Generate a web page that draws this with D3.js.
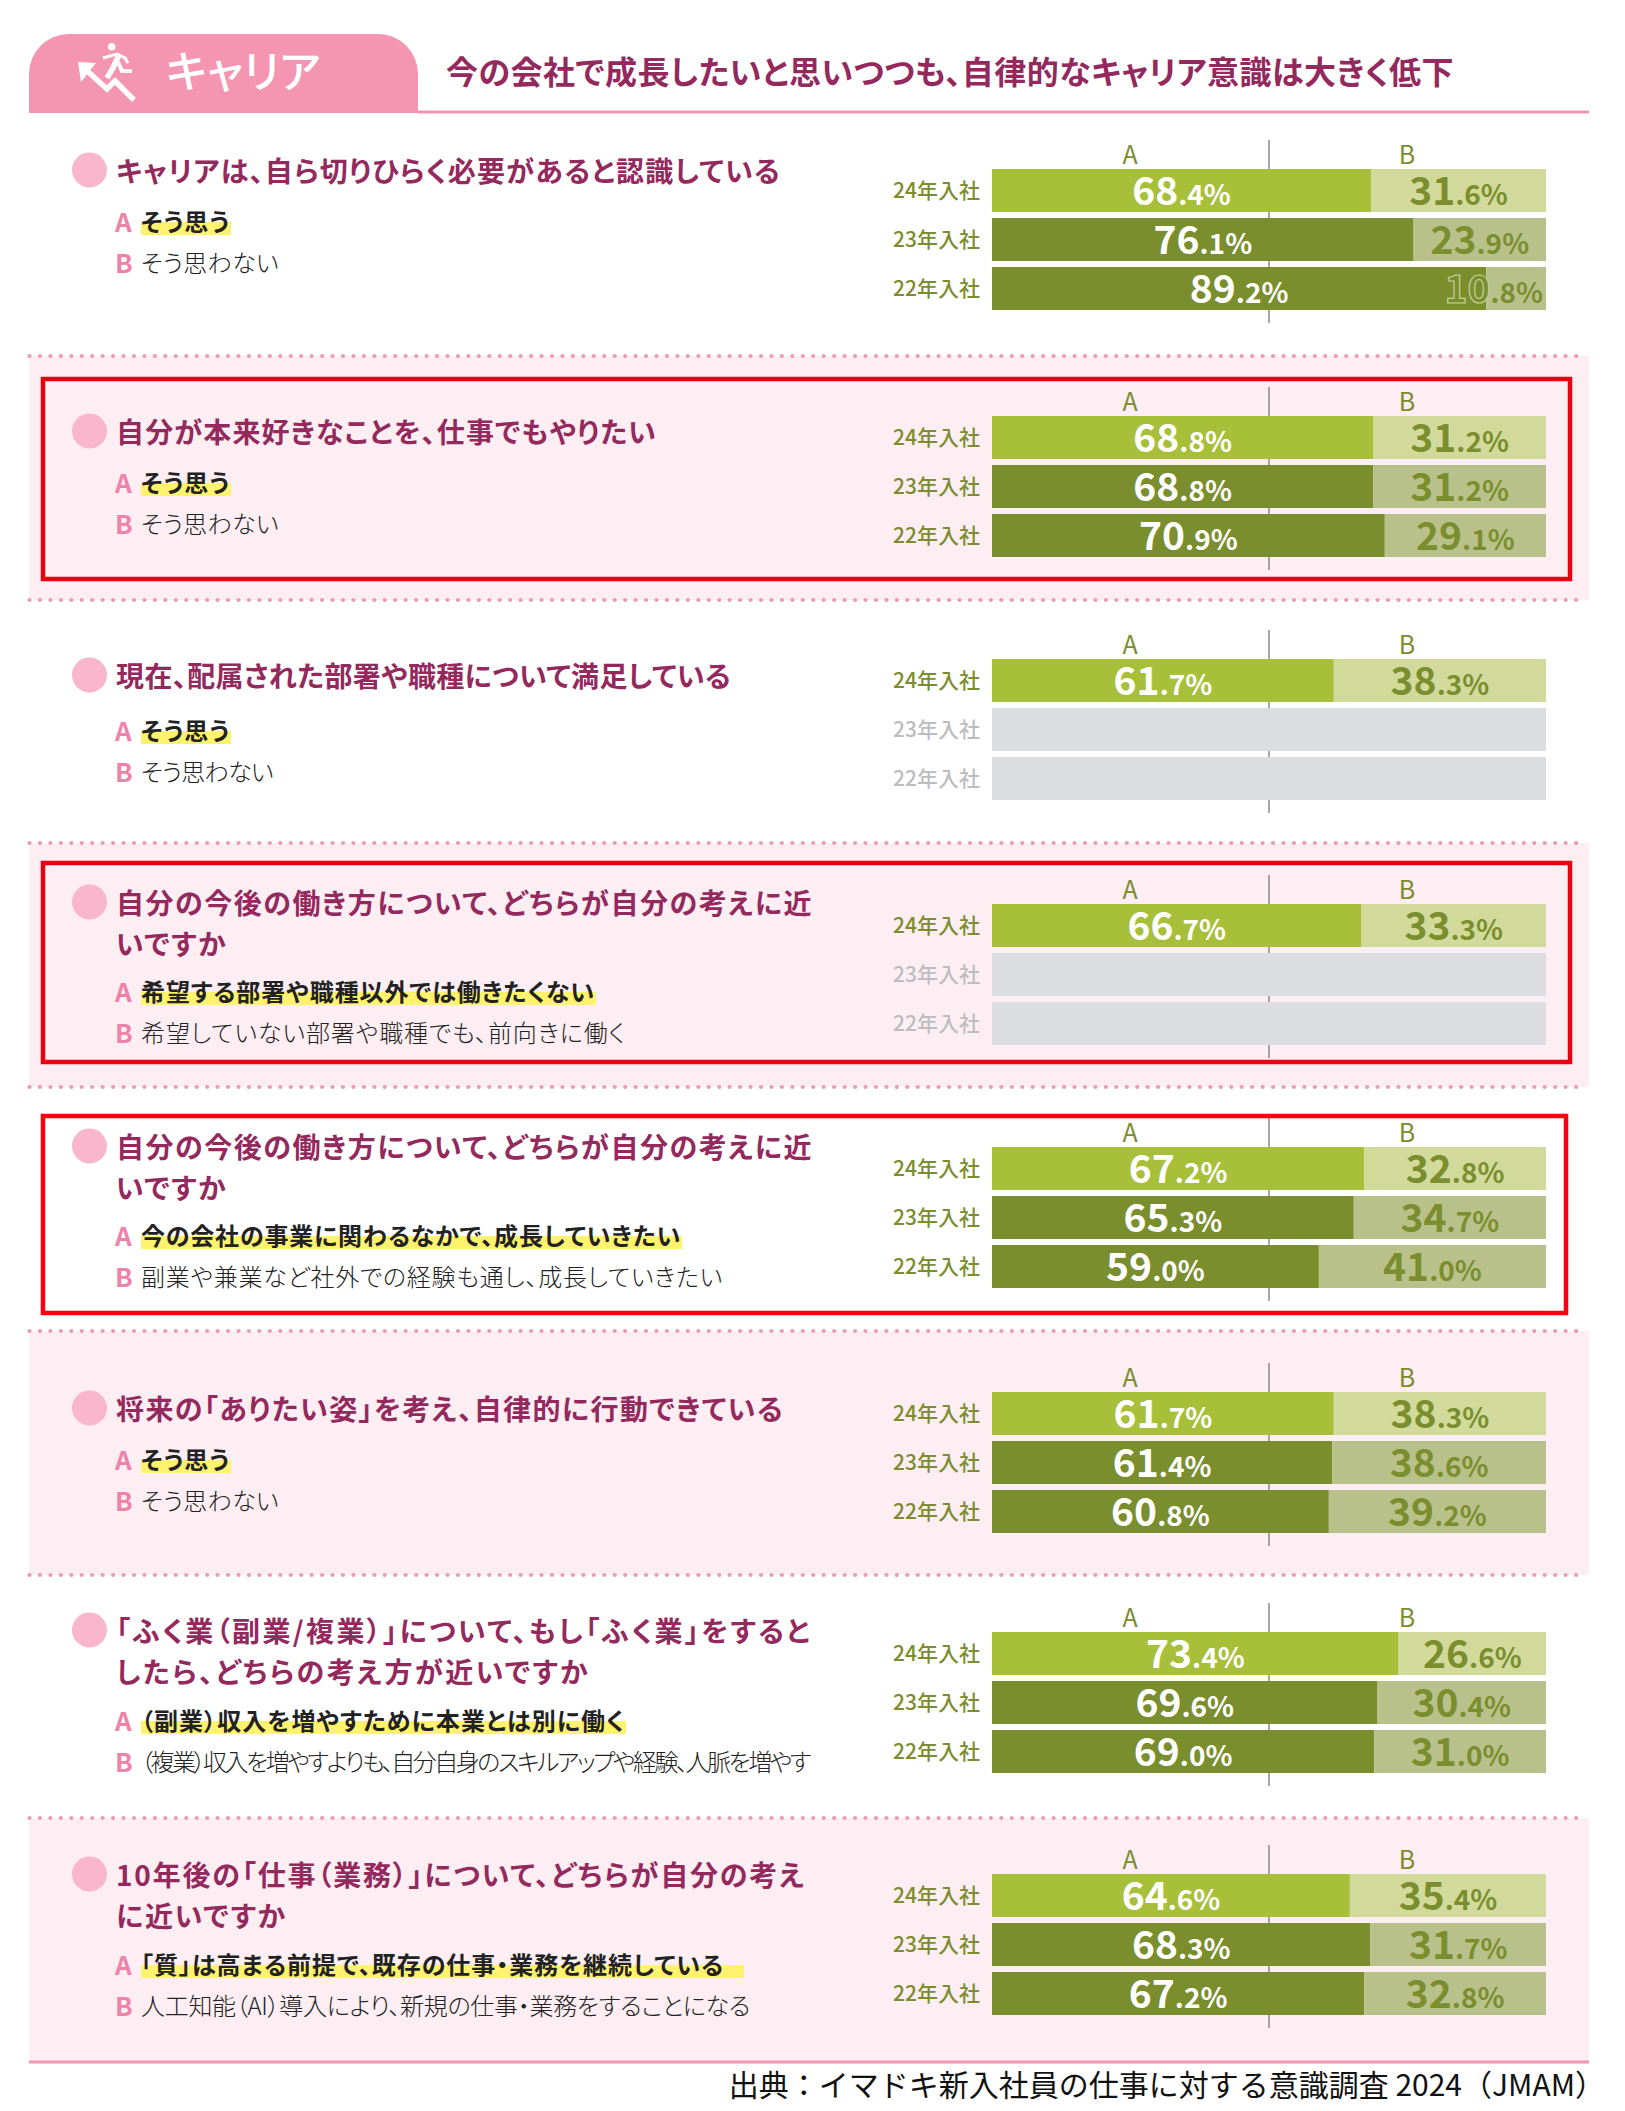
<!DOCTYPE html>
<html>
<head>
<meta charset="utf-8">
<script src="https://cdn.jsdelivr.net/npm/d3@7"></script>
<style>
  body { margin: 0; background: #fff; }
  svg { display: block; }
  text { font-family: "Noto Sans CJK JP", "Noto Sans", sans-serif; font-feature-settings: "palt"; }
</style>
</head>
<body>
<div id="chart"></div>
<script>
// values
const years = ["24年入社", "23年入社", "22年入社"];
const sideLabels = ["A", "B"];

const tabTitle = "キャリア";
const headline = "今の会社で成長したいと思いつつも、自律的なキャリア意識は大きく低下";
const source = "出典：イマドキ新入社員の仕事に対する意識調査 2024（JMAM）";

const questions = [
  ["キャリアは、自ら切りひらく必要があると認識している"],
  ["自分が本来好きなことを、仕事でもやりたい"],
  ["現在、配属された部署や職種について満足している"],
  ["自分の今後の働き方について、どちらが自分の考えに近", "いですか"],
  ["自分の今後の働き方について、どちらが自分の考えに近", "いですか"],
  ["将来の「ありたい姿」を考え、自律的に行動できている"],
  ["「ふく業（副業/複業）」について、もし「ふく業」をすると", "したら、どちらの考え方が近いですか"],
  ["10年後の「仕事（業務）」について、どちらが自分の考え", "に近いですか"]
];
const answersA = [
  "そう思う", "そう思う", "そう思う",
  "希望する部署や職種以外では働きたくない",
  "今の会社の事業に関わるなかで、成長していきたい",
  "そう思う",
  "（副業）収入を増やすために本業とは別に働く",
  "「質」は高まる前提で、既存の仕事・業務を継続している"
];
const answersB = [
  "そう思わない", "そう思わない", "そう思わない",
  "希望していない部署や職種でも、前向きに働く",
  "副業や兼業など社外での経験も通し、成長していきたい",
  "そう思わない",
  "（複業）収入を増やすよりも、自分自身のスキルアップや経験、人脈を増やす",
  "人工知能（AI）導入により、新規の仕事・業務をすることになる"
];

const valuesA = [
  [68.4, 76.1, 89.2],
  [68.8, 68.8, 70.9],
  [61.7, null, null],
  [66.7, null, null],
  [67.2, 65.3, 59.0],
  [61.7, 61.4, 60.8],
  [73.4, 69.6, 69.0],
  [64.6, 68.3, 67.2]
];
const valuesB = [
  [31.6, 23.9, 10.8],
  [31.2, 31.2, 29.1],
  [38.3, null, null],
  [33.3, null, null],
  [32.8, 34.7, 41.0],
  [38.3, 38.6, 39.2],
  [26.6, 30.4, 31.0],
  [35.4, 31.7, 32.8]
];

// page layout
const width = 1625, height = 2111;
const pageLeft = 29, pageRight = 1589;
const barTops = [169, 416, 659, 904, 1147, 1392, 1632, 1874];
const bulletYs = [170, 431, 675, 902, 1146, 1408, 1630, 1874];
const answerYs = [223, 484, 732, 993, 1237, 1461, 1722, 1966];
const questionEnds = [781, 657, 731, 813, 813, 784, 812, 806];
const answerAEnds = [230, 230, 230, 595, 681, 230, 625, 724];
const answerBEnds = [279, 279, 273, 626, 723, 279, 809, 750];
const tintedSections = [1, 3, 5, 7];
const dotLines = [356, 600, 843, 1087, 1331, 1575, 1818];
const redBoxes = [
  {x: 43, y: 379, w: 1527, h: 200, c: "#e60012"},
  {x: 43, y: 863, w: 1527, h: 199, c: "#e60012"},
  {x: 43, y: 1116, w: 1523, h: 197, c: "#fa0010"}
];

const green = "#7c8c2e", greenLight = "#a8bf3a", greenDark = "#7a8e2e";
const tintLight = "#d1da9b", tintDark = "#b9c18b";
const pink = "#f495b1", wine = "#93295d";

const svg = d3.select("#chart").append("svg").attr("width", width).attr("height", height);

// tinted backgrounds
svg.append("g").selectAll("rect").data(tintedSections).enter().append("rect")
  .attr("x", pageLeft)
  .attr("y", d => dotLines[d - 1])
  .attr("width", pageRight - pageLeft)
  .attr("height", d => (dotLines[d] || 2062) - dotLines[d - 1])
  .attr("fill", "#fdeef3");

// dotted separators
let dotXs = d3.range(pageLeft + 0.5, pageRight - 3, 10.45);
dotLines.forEach(function(y) {
  svg.append("g").selectAll("circle").data(dotXs).enter().append("circle")
    .attr("cx", d => d).attr("cy", y).attr("r", 2.1).attr("fill", "#ec9ab6");
});

// header tab
svg.append("path")
  .attr("d", "M29,113 V74 A40,40 0 0 1 69,34 H378 A40,40 0 0 1 418,74 V113 Z")
  .attr("fill", pink);
svg.append("line").attr("x1", 418).attr("x2", pageRight).attr("y1", 112).attr("y2", 112)
  .attr("stroke", pink).attr("stroke-width", 3);
svg.append("line").attr("x1", pageLeft).attr("x2", pageRight).attr("y1", 2062).attr("y2", 2062)
  .attr("stroke", pink).attr("stroke-width", 3);

// running man icon
let icon = svg.append("g").attr("fill", "none").attr("stroke", "#fff").attr("stroke-linejoin", "miter");
icon.append("path").attr("d", "M84,68 L107,89 L115,81 L134,100").attr("stroke-width", 5.5);
icon.append("path").attr("d", "M78,62 L96,63 L81,82 Z").attr("fill", "#fff").attr("stroke", "none");
icon.append("circle").attr("cx", 111.7).attr("cy", 46.7).attr("r", 3.8).attr("fill", "#fff").attr("stroke", "none");
icon.append("path").attr("d", "M119,55 L113,68 L107,78").attr("stroke-width", 5.5);
icon.append("path").attr("d", "M103,58 L117,54 L125,58 L128,63").attr("stroke-width", 3);
icon.append("path").attr("d", "M118,62 L122,71 L132,71").attr("stroke-width", 4);

svg.append("text").attr("x", 166).attr("y", 88).text(tabTitle)
  .attr("font-size", 44).attr("font-weight", 500).attr("fill", "#fff");

let headlineText = svg.append("text").attr("x", 446).attr("y", 84).text(headline)
  .attr("font-size", 32).attr("font-weight", 700).attr("fill", wine);
fitTo(headlineText, 446, 1454);

svg.append("text").attr("x", 1605).attr("y", 2096).attr("text-anchor", "end").text(source)
  .style("font-feature-settings", "normal")
  .attr("font-size", 30).attr("font-weight", 400).attr("fill", "#111");

// stretch or squeeze a text so that it ends where it does in the picture
function fitTo(label, from, to) {
  let spacing = (to - from - label.node().getComputedTextLength()) / label.text().length;
  label.style("letter-spacing", spacing + "px");
  return spacing;
}

// shared horizontal scale for all the bars
let x = d3.scaleLinear().domain([0, 100]).range([992, 1546]);

function drawSection(i) {
  let top = barTops[i], bulletY = bulletYs[i];
  let g = svg.append("g").attr("class", "section");

  // left side: question and the two answers
  g.append("circle").attr("cx", 89.5).attr("cy", bulletY).attr("r", 17.5).attr("fill", "#f9b6cd");
  let spacing = 0;
  questions[i].forEach(function(line, k) {
    let q = g.append("text").attr("x", 116).attr("y", bulletY + 12 + k * 40.5).text(line)
      .attr("font-size", 28).attr("font-weight", 700).attr("fill", wine);
    if (k == 0) spacing = fitTo(q, 116, questionEnds[i]);
    else q.style("letter-spacing", spacing + "px");
  });

  let answerY = answerYs[i];

  let mark = g.append("rect");
  let answerA = g.append("text").attr("x", 141).attr("y", answerY + 8).text(answersA[i])
    .attr("font-size", 24).attr("font-weight", 700).attr("fill", "#222");
  fitTo(answerA, 141, answerAEnds[i]);
  let answerWidth = answerA.node().getComputedTextLength();
  mark.attr("x", 141).attr("y", answerY - 1)
    .attr("width", answerWidth + (i == 7 ? 20 : 1)).attr("height", 13).attr("fill", "#fff26f");

  let answerB = g.append("text").attr("x", 141).attr("y", answerY + 49).text(answersB[i])
    .attr("font-size", 24).attr("font-weight", 300).attr("fill", "#222");
  fitTo(answerB, 141, answerBEnds[i]);

  [["A", answerY + 9], ["B", answerY + 50]].forEach(function(d) {
    g.append("text").attr("x", 115).attr("y", d[1]).text(d[0])
      .attr("font-size", 26).attr("font-weight", 700).attr("fill", "#ef82a8");
  });

  // right side: chart
  let y = d3.scaleBand().domain(years).range([top, top + 141]).paddingInner(6 / 49);

  g.append("line").attr("x1", x(50)).attr("x2", x(50)).attr("y1", top - 29).attr("y2", top + 154)
    .attr("stroke", "#8a8a8a").attr("stroke-width", 1.5);

  g.selectAll(".side").data(sideLabels).enter().append("text").attr("class", "side")
    .attr("x", (d, k) => k == 0 ? 1130 : 1407)
    .attr("y", top - 5)
    .attr("text-anchor", "middle").attr("font-size", 25).attr("fill", green)
    .text(d => d);

  let axis = g.append("g").attr("transform", "translate(" + x(0) + ",1)")
    .call(d3.axisLeft(y).tickSize(0).tickPadding(12));
  axis.select(".domain").remove();
  axis.selectAll("text")
    .style("font-size", "21px").style("font-weight", 500)
    .style("font-family", '"Noto Sans CJK JP"')
    .attr("fill", (d, k) => valuesA[i][k] == null ? "#bcbdbf" : green);

  years.forEach(function(year, k) {
    let a = valuesA[i][k], b = valuesB[i][k];
    if (a == null) {
      g.append("rect").attr("x", x(0)).attr("y", y(year)).attr("width", x(100) - x(0))
        .attr("height", y.bandwidth()).attr("fill", "#dcdde0");
      return;
    }
    g.append("rect").attr("x", x(0)).attr("y", y(year)).attr("width", x(a) - x(0))
      .attr("height", y.bandwidth()).attr("fill", k == 0 ? greenLight : greenDark);
    g.append("rect").attr("x", x(a)).attr("y", y(year)).attr("width", x(100) - x(a))
      .attr("height", y.bandwidth()).attr("fill", k == 0 ? tintLight : tintDark);

    valueLabel(g, a, x(0), x(a), y(year), "#fff");
    valueLabel(g, b, x(a), x(100), y(year), greenDark);
  });
}

function valueLabel(g, value, from, to, rowTop, color) {
  let parts = value.toFixed(1).split(".");
  let label = g.append("text").attr("y", rowTop + 36).attr("fill", color)
    .attr("text-anchor", "middle").attr("font-weight", 700);
  let big = label.append("tspan").attr("font-size", 39).text(parts[0]);
  label.append("tspan").attr("font-size", 28).text("." + parts[1] + "%");
  let w = label.node().getComputedTextLength();
  let mid = (from + to) / 2;
  if (w > to - from) {
    // label does not fit its segment: push it against the bar end and outline the digits
    mid = to - 3 - w / 2;
    big.attr("stroke", "#c5cf9c").attr("stroke-width", 1.2);
  }
  label.attr("x", mid);
}

for (let i = 0; i < questions.length; i++) {
  drawSection(i);
}

// highlight boxes on top
svg.append("g").selectAll("rect").data(redBoxes).enter().append("rect")
  .attr("x", d => d.x).attr("y", d => d.y).attr("width", d => d.w).attr("height", d => d.h)
  .attr("fill", "none").attr("stroke", d => d.c).attr("stroke-width", 4.5);
</script>
</body>
</html>
